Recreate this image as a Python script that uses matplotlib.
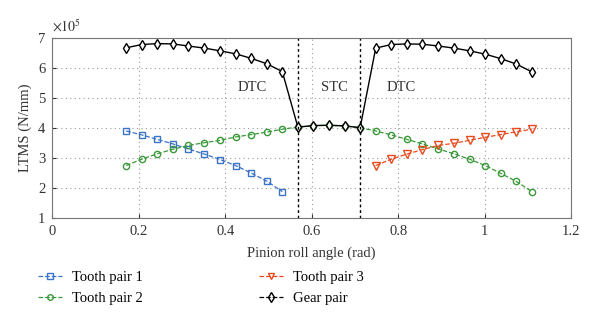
import numpy as np
import matplotlib
matplotlib.use("Agg")
import matplotlib.pyplot as plt
from matplotlib.lines import Line2D

plt.rcParams['font.family'] = ['Liberation Serif', 'DejaVu Serif']
plt.rcParams['mathtext.fontset'] = 'stix'

# roll angle grid (rad)
angle = [0.171, 0.207, 0.243, 0.279, 0.315, 0.352, 0.388, 0.424, 0.460, 0.496,
         0.532, 0.568, 0.604, 0.640, 0.676, 0.712, 0.748, 0.784, 0.820, 0.856,
         0.893, 0.929, 0.965, 1.001, 1.037, 1.073, 1.109]

# LTMS values, x1e5 N/mm
pair1 = [3.90, 3.77, 3.62, 3.47, 3.30, 3.13, 2.95, 2.75, 2.50, 2.23, 1.88]
pair2 = [2.75, 2.96, 3.14, 3.29, 3.42, 3.51, 3.59, 3.70, 3.78, 3.86, 3.96,
         4.03, 4.08, 4.09, 4.07, 4.01,
         3.90, 3.77, 3.62, 3.47, 3.30, 3.14, 2.96, 2.75, 2.49, 2.22, 1.88]
pair3 = [2.75, 2.96, 3.13, 3.28, 3.42, 3.49, 3.59, 3.69, 3.78, 3.87, 3.96]
gear = [6.67, 6.78, 6.81, 6.80, 6.73, 6.66, 6.57, 6.47, 6.32, 6.14, 5.88,
        4.03, 4.08, 4.09, 4.07, 4.01,
        6.66, 6.78, 6.80, 6.79, 6.73, 6.66, 6.57, 6.46, 6.31, 6.13, 5.87]

stc_bounds = [0.568, 0.712]
zone_labels = [(0.463, 'DTC'), (0.652, 'STC'), (0.806, 'DTC')]

blue = '#3b73c8'
green = '#3a9a3a'
red = '#e84a1e'

fig = plt.figure(figsize=(6, 3.24), dpi=100)
ax = fig.add_axes([0.087, 0.327, 0.865, 0.556])

ms = 4.5
ax.plot(angle[:11], pair1, '--', color=blue, marker='s', ms=ms, mfc='none', lw=0.9)
ax.plot(angle, pair2, '--', color=green, marker='o', ms=ms, mfc='none', lw=0.9)
ax.plot(angle[16:], pair3, '--', color=red, marker='v', ms=ms + 1, mfc='none', lw=0.9)
ax.plot(angle, gear, '-', color='black', marker='d', ms=ms + 1, mfc='white', lw=1.0)

for xb in stc_bounds:
    ax.axvline(xb, color='black', ls=(0, (2, 2)), lw=1.0)

for xt, lab in zone_labels:
    ax.text(xt, 5.36, lab, ha='center', va='center', fontsize=10.5, color='#333333')

ax.set_xlim(0, 1.2)
ax.set_ylim(1, 7)
ax.set_xticks([0, 0.2, 0.4, 0.6, 0.8, 1.0, 1.2])
ax.set_xticklabels(['0', '0.2', '0.4', '0.6', '0.8', '1', '1.2'])
ax.set_yticks([1, 2, 3, 4, 5, 6, 7])
ax.grid(True, ls=(0, (1, 3)), color='#999999', lw=0.8)
ax.tick_params(direction='in', labelsize=10.5, colors='#333333', length=3, pad=5)
for s in ax.spines.values():
    s.set_color('#777777')
ax.set_xlabel('Pinion roll angle (rad)', fontsize=10.5, color='#333333', labelpad=6)
ax.set_ylabel('LTMS (N/mm)', fontsize=10.5, color='#333333')
ax.text(0, 1.02, r'$\times10^5$', transform=ax.transAxes, fontsize=10, color='#333333',
        ha='left', va='bottom')

handles = [
    Line2D([], [], ls='--', color=blue, marker='s', ms=4, mfc='none', lw=0.9),
    Line2D([], [], ls='--', color=green, marker='o', ms=4, mfc='none', lw=0.9),
    Line2D([], [], ls='--', color=red, marker='v', ms=5, mfc='none', lw=0.9),
    Line2D([], [], ls='--', color='black', marker='d', ms=5, mfc='none', lw=0.9),
]
labels = ['Tooth pair 1', 'Tooth pair 2', 'Tooth pair 3', 'Gear pair']
fig.legend(handles, labels, ncol=2, loc='upper left', bbox_to_anchor=(0.064, 0.165),
           frameon=False, fontsize=10.5, handlelength=1.6, columnspacing=8.0,
           labelspacing=0.55, handletextpad=0.7, borderpad=0, borderaxespad=0)

fig.savefig('out.png', dpi=100)
